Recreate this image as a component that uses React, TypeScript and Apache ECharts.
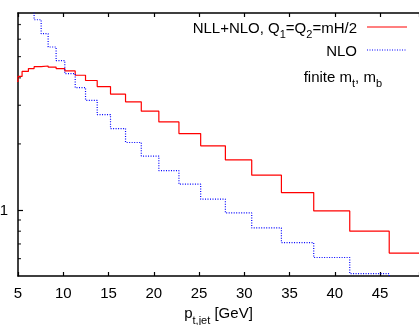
import React, { useEffect, useRef } from 'react';
import * as echarts from 'echarts';

// bin edges of the pt,jet histogram (GeV)
const binEdges = [4.5, 5.0, 5.45, 6.15, 6.78, 7.56, 8.33, 9.21, 10.17, 11.32, 12.46, 13.75, 15.22, 16.88, 18.62, 20.56, 22.78, 25.18, 27.91, 30.82, 34.1, 37.67, 41.65, 46.01, 50.9];
// NLL+NLO, Q1=Q2=mH/2
const nllNlo = [3.85, 4.06, 4.28, 4.41, 4.5, 4.53, 4.48, 4.41, 4.3, 4.11, 3.89, 3.65, 3.37, 3.11, 2.82, 2.52, 2.23, 1.96, 1.69, 1.44, 1.2, 0.99, 0.8, 0.636];
// NLO
const nlo = [12, 11, 10, 8.8, 7.36, 6.36, 5.53, 4.79, 4.18, 3.61, 3.16, 2.72, 2.35, 2.03, 1.76, 1.51, 1.31, 1.12, 0.969, 0.828, 0.71, 0.607, 0.513, 0.45];
// minor tick values of the log y axis
const yMinorTicks = [0.6, 0.7, 0.8, 0.9, 2, 3, 4, 5, 6, 7];
const xTickLabels = [5, 10, 15, 20, 25, 30, 35, 40, 45];

const FONT = '"Liberation Sans", Arial, Helvetica, sans-serif';
const FS = 15;

function stepData(vals: number[]) {
  const pts: [number, number][] = vals.map((v, i) => [binEdges[i], v]);
  pts.push([binEdges[vals.length], vals[vals.length - 1]]);
  return pts;
}

export default function App() {
  const ref = useRef<HTMLDivElement>(null);
  useEffect(() => {
    document.body.style.margin = '0';
    const chart = echarts.init(ref.current!, undefined, { renderer: 'svg' });
    const axisLine = { show: true, lineStyle: { color: '#000', width: 1.5 } };
    const xCommon = {
      type: 'value' as const,
      min: 5,
      max: 49.3,
      interval: 5,
      splitLine: { show: false },
      axisLine,
      axisTick: { show: true, inside: true, length: 4, lineStyle: { color: '#000', width: 1.2 } },
    };
    const rich = {
      a: { fontSize: FS, fontFamily: FONT, color: '#000' },
      s: { fontSize: 11, fontFamily: FONT, color: '#000', padding: [0, 0, -5, 0], verticalAlign: 'bottom' },
    };
    chart.setOption({
      animation: false,
      textStyle: { fontFamily: FONT },
      grid: { left: 18, right: 0, top: 13, bottom: 49, containLabel: false, outerBoundsMode: 'none' },
      xAxis: [
        {
          ...xCommon,
          position: 'bottom',
          axisLabel: {
            show: true,
            fontSize: FS,
            color: '#000',
            fontFamily: FONT,
            margin: 9,
            formatter: (v: number) => (xTickLabels.includes(v) ? String(v) : ''),
          },
          name: '{a|p}{s|t,jet}{a| [GeV]}',
          nameLocation: 'middle',
          nameGap: 29,
          nameTextStyle: { rich },
        },
        {
          ...xCommon,
          position: 'top',
          axisLabel: { show: false },
        },
      ],
      yAxis: {
        type: 'log',
        logBase: 10,
        min: 0.5,
        max: 7.9,
        splitLine: { show: false },
        axisLine,
        axisTick: { show: true, inside: true, length: 5, lineStyle: { color: '#000', width: 1.2 } },
        axisLabel: {
          fontSize: FS,
          color: '#000',
          fontFamily: FONT,
          margin: 10,
          showMinLabel: false,
          showMaxLabel: false,
          formatter: (v: number) => (Math.abs(v - 1) < 1e-9 ? '1' : ''),
        },
      },
      series: [
        {
          name: 'NLL+NLO',
          type: 'line',
          step: 'end',
          data: stepData(nllNlo),
          showSymbol: false,
          symbol: 'none',
          clip: true,
          lineStyle: { color: '#ff0000', width: 1.2 },
        },
        {
          name: 'NLO',
          type: 'line',
          step: 'end',
          data: stepData(nlo),
          showSymbol: false,
          symbol: 'none',
          clip: true,
          lineStyle: { color: '#0000ff', width: 1.2, type: [1, 1.5] },
        },
        {
          name: 'minorTicks',
          type: 'scatter',
          data: yMinorTicks.map((v) => [5, v]),
          symbol: 'rect',
          symbolSize: [3, 1.2],
          symbolOffset: [1.5, 0],
          itemStyle: { color: '#000' },
          silent: true,
        },
      ],
      graphic: [
        {
          type: 'text',
          x: 357,
          y: 27,
          style: {
            text: '{a|NLL+NLO, Q}{s|1}{a|=Q}{s|2}{a|=mH/2}',
            rich,
            align: 'right',
            verticalAlign: 'middle',
          },
        },
        { type: 'line', shape: { x1: 367, y1: 27, x2: 407, y2: 27 }, style: { stroke: '#ff0000', lineWidth: 1.2 } },
        {
          type: 'text',
          x: 357,
          y: 50,
          style: { text: '{a|NLO}', rich, align: 'right', verticalAlign: 'middle' },
        },
        {
          type: 'line',
          shape: { x1: 367, y1: 50, x2: 407, y2: 50 },
          style: { stroke: '#0000ff', lineWidth: 1.2, lineDash: [1, 1.5] },
        },
        {
          type: 'text',
          x: 382,
          y: 76,
          style: { text: '{a|finite m}{s|t}{a|, m}{s|b}', rich, align: 'right', verticalAlign: 'middle' },
        },
      ],
    });
    return () => chart.dispose();
  }, []);
  return <div ref={ref} style={{ position: 'fixed', left: 0, top: 0, width: 419, height: 325 }} />;
}
